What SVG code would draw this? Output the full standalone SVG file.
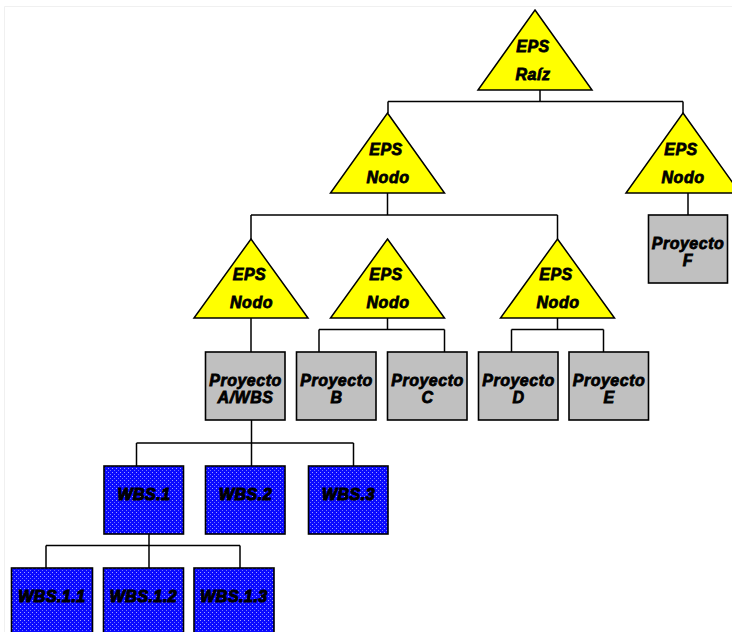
<svg xmlns="http://www.w3.org/2000/svg" width="732" height="632" viewBox="0 0 732 632">
<defs>
<pattern id="dots" width="4" height="4" patternUnits="userSpaceOnUse">
<rect width="4" height="4" fill="#0a0aff"/>
<rect x="0" y="0" width="1" height="1" fill="#a0a0ff"/>
<rect x="2" y="2" width="1" height="1" fill="#7070ff"/>
</pattern>
<style>
.tri{fill:#ffff00;stroke:#000;stroke-width:1.5;stroke-linejoin:miter}
.prj{fill:#c0c0c0;stroke:#000;stroke-width:1.6}
.wbs{fill:url(#dots);stroke:#000;stroke-width:1.6}
.lbl{font-family:"Liberation Sans",Arial,sans-serif;font-size:16px;font-weight:bold;font-style:italic;fill:#000;stroke:#000;stroke-width:0.8;letter-spacing:0.5px;text-anchor:middle}
.wl{stroke-width:1.1}
.con{fill:none;stroke:#000;stroke-width:1.5}
</style>
</defs>
<rect width="732" height="632" fill="#fff"/>
<path d="M4.5 632 V6.5 H732" fill="none" stroke="#f0f0f0" stroke-width="1"/>

<g id="connectors">
<path class="con" d="M540 90 V101.5 M388 101.5 H683 M388 101.5 V113 M683 101.5 V113"/>
<path class="con" d="M387.5 193 V215 M251 215 H557.5 M251 215 V239 M557.5 215 V239"/>
<path class="con" d="M688 193 V215"/>
<path class="con" d="M251 318 V352"/>
<path class="con" d="M387.5 318 V329.5 M319 329.5 H444.5 M319 329.5 V352 M444.5 329.5 V352"/>
<path class="con" d="M557.5 318 V329.5 M511.5 329.5 H603.5 M511.5 329.5 V352 M603.5 329.5 V352"/>
<path class="con" d="M251.5 420 V443 M136.5 443 H353.5 M136.5 443 V466 M251.5 443 V466 M353.5 443 V466"/>
<path class="con" d="M149 534 V545.5 M46 545.5 H240 M46 545.5 V568 M149 545.5 V568 M240 545.5 V568"/>
</g>

<g id="eps-raiz">
<polygon class="tri" points="535,10 592,90 478,90"/>
<text class="lbl" x="533" y="52">EPS</text>
<text class="lbl" x="533" y="80">Raíz</text>
</g>
<g id="eps-nodo-1">
<polygon class="tri" points="387.5,113 444.5,193 330.5,193"/>
<text class="lbl" x="386" y="155">EPS</text>
<text class="lbl" x="388" y="182.5">Nodo</text>
</g>
<g id="eps-nodo-2">
<polygon class="tri" points="683,113 740,193 626,193"/>
<text class="lbl" x="681" y="155">EPS</text>
<text class="lbl" x="683" y="182.5">Nodo</text>
</g>
<g id="eps-nodo-3">
<polygon class="tri" points="251,239 308,318 194,318"/>
<text class="lbl" x="249.5" y="280">EPS</text>
<text class="lbl" x="251.5" y="308">Nodo</text>
</g>
<g id="eps-nodo-4">
<polygon class="tri" points="387.5,239 444.5,318 330.5,318"/>
<text class="lbl" x="386" y="280">EPS</text>
<text class="lbl" x="388" y="308">Nodo</text>
</g>
<g id="eps-nodo-5">
<polygon class="tri" points="557.5,239 614.5,318 500.5,318"/>
<text class="lbl" x="556" y="280">EPS</text>
<text class="lbl" x="558" y="308">Nodo</text>
</g>

<g id="proyecto-f">
<rect class="prj" x="648.5" y="215" width="79" height="68"/>
<text class="lbl" x="688" y="249">Proyecto</text>
<text class="lbl" x="688" y="265.5">F</text>
</g>
<g id="proyecto-a">
<rect class="prj" x="205.5" y="352" width="79.5" height="68"/>
<text class="lbl" x="245.5" y="385.5">Proyecto</text>
<text class="lbl" x="245.5" y="403">A/WBS</text>
</g>
<g id="proyecto-b">
<rect class="prj" x="296.5" y="352" width="79.5" height="68"/>
<text class="lbl" x="336.5" y="385.5">Proyecto</text>
<text class="lbl" x="336.5" y="403">B</text>
</g>
<g id="proyecto-c">
<rect class="prj" x="387.5" y="352" width="79.5" height="68"/>
<text class="lbl" x="427.5" y="385.5">Proyecto</text>
<text class="lbl" x="427.5" y="403">C</text>
</g>
<g id="proyecto-d">
<rect class="prj" x="478.5" y="352" width="79.5" height="68"/>
<text class="lbl" x="518.5" y="385.5">Proyecto</text>
<text class="lbl" x="518.5" y="403">D</text>
</g>
<g id="proyecto-e">
<rect class="prj" x="569" y="352" width="79.5" height="68"/>
<text class="lbl" x="609" y="385.5">Proyecto</text>
<text class="lbl" x="609" y="403">E</text>
</g>

<g id="wbs-1">
<rect class="wbs" x="104" y="466" width="79.5" height="68"/>
<text class="lbl wl" x="144" y="500">WBS.1</text>
</g>
<g id="wbs-2">
<rect class="wbs" x="205.5" y="466" width="79.5" height="68"/>
<text class="lbl wl" x="245.5" y="500">WBS.2</text>
</g>
<g id="wbs-3">
<rect class="wbs" x="308.5" y="466" width="79.5" height="68"/>
<text class="lbl wl" x="348.5" y="500">WBS.3</text>
</g>
<g id="wbs-1-1">
<rect class="wbs" x="11.5" y="568" width="81" height="70"/>
<text class="lbl wl" x="52" y="602">WBS.1.1</text>
</g>
<g id="wbs-1-2">
<rect class="wbs" x="103.5" y="568" width="80" height="70"/>
<text class="lbl wl" x="143.5" y="602">WBS.1.2</text>
</g>
<g id="wbs-1-3">
<rect class="wbs" x="194" y="568" width="80" height="70"/>
<text class="lbl wl" x="234" y="602">WBS.1.3</text>
</g>
</svg>
